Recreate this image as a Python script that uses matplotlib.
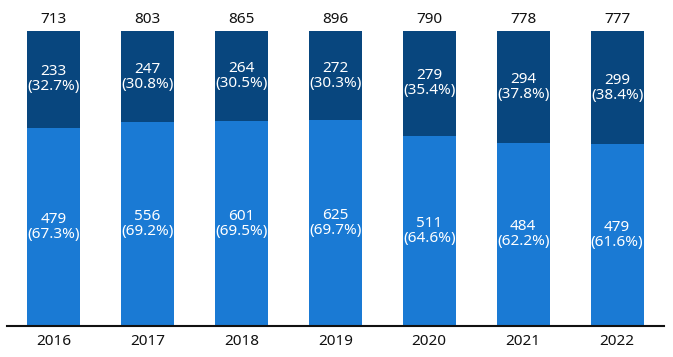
import numpy as np
import matplotlib
matplotlib.use("Agg")
import matplotlib.pyplot as plt

plt.rcParams['font.family'] = ['Noto Sans', 'DejaVu Sans']

# Data
years = ["2016", "2017", "2018", "2019", "2020", "2021", "2022"]
bottom_vals = [479, 556, 601, 625, 511, 484, 479]
top_vals = [233, 247, 264, 272, 279, 294, 299]
totals = [713, 803, 865, 896, 790, 778, 777]
bottom_pct = [67.3, 69.2, 69.5, 69.7, 64.6, 62.2, 61.6]
top_pct = [32.7, 30.8, 30.5, 30.3, 35.4, 37.8, 38.4]

light = "#1a7ad4"
dark = "#08467e"

fig = plt.figure(figsize=(6.73, 3.57), dpi=100)
ax = fig.add_axes([0.0097, 0.0868, 0.977, 0.826])

x = np.arange(len(years))
b_share = np.array(bottom_pct) / 100
t_share = np.array(top_pct) / 100
ax.bar(x, b_share, width=0.565, color=light)
ax.bar(x, t_share, width=0.565, bottom=b_share, color=dark)

for i in range(len(years)):
    ax.text(x[i], b_share[i] / 2, f"{bottom_vals[i]}\n({bottom_pct[i]:.1f}%)",
            ha="center", va="center", color="white", fontsize=11, linespacing=1.0)
    ax.text(x[i], b_share[i] + t_share[i] / 2, f"{top_vals[i]}\n({top_pct[i]:.1f}%)",
            ha="center", va="center", color="white", fontsize=11, linespacing=1.0)
    ax.text(x[i], 1.04, str(totals[i]), ha="center", va="center",
            color="#111111", fontsize=11, clip_on=False)

ax.set_xlim(-0.5, 6.5)
ax.set_ylim(0, 1)
ax.set_xticks(x)
ax.set_xticklabels(years, fontsize=11, color="#111111")
ax.tick_params(axis="x", length=0, pad=6)
ax.set_yticks([])
for s in ["top", "right", "left"]:
    ax.spines[s].set_visible(False)
ax.spines["bottom"].set_linewidth(1.5)
ax.spines["bottom"].set_color("#111111")

plt.savefig("out.png", dpi=100)
